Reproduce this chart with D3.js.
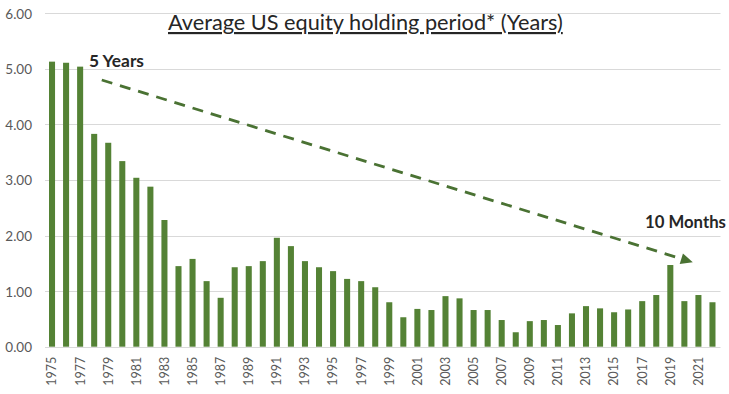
<!DOCTYPE html>
<html>
<head>
<meta charset="utf-8">
<script src="https://cdn.jsdelivr.net/npm/d3@7"></script>
<style>
  html, body { margin: 0; padding: 0; background: #fff; }
  svg { display: block; }
  text { font-family: Lato, "Open Sans", sans-serif; }
</style>
</head>
<body>
<svg id="chart" width="729" height="394"></svg>
<script>
const years = d3.range(1975, 2023);
const values = [
  5.13, 5.11, 5.04, 3.83, 3.67, 3.34, 3.04, 2.88, 2.28, 1.45,
  1.58, 1.18, 0.88, 1.43, 1.45, 1.54, 1.96, 1.81, 1.54, 1.43,
  1.36, 1.22, 1.18, 1.07, 0.80, 0.53, 0.68, 0.66, 0.91, 0.87,
  0.66, 0.66, 0.48, 0.26, 0.46, 0.48, 0.39, 0.60, 0.73, 0.69,
  0.62, 0.67, 0.82, 0.93, 1.47, 0.82, 0.93, 0.80
];
const yTicks = [0, 1, 2, 3, 4, 5, 6];
const xTickYears = years.filter((y, i) => i % 2 === 0);
const title = "Average US equity holding period* (Years)";
const trendStart = { year: 1978.54, value: 4.80 };
const trendEnd = { year: 2020.6, value: 1.52 };
const noteStart = "5 Years";
const noteEnd = "10 Months";

const svg = d3.select("#chart");
const plotLeft = 45, plotRight = 719.5, plotTop = 13.3, plotBottom = 346.7;

const x = d3.scaleBand().domain(years).range([plotLeft, plotRight]).paddingInner(0.57).paddingOuter(0.285);
const y = d3.scaleLinear().domain([0, 6]).range([plotBottom, plotTop]);
const xc = d3.scaleLinear().domain([1975, 2022]).range([x(1975) + x.bandwidth() / 2, x(2022) + x.bandwidth() / 2]);

function fit(sel, target) {
  const n = sel.node();
  const fs = parseFloat(sel.attr("font-size"));
  const w = n.getComputedTextLength();
  if (w > 0) sel.attr("font-size", fs * target / w);
}

// gridlines
svg.append("g").selectAll("line").data(yTicks).join("line")
  .attr("x1", plotLeft).attr("x2", plotRight + 1)
  .attr("y1", d => Math.round(y(d)) + 0.5).attr("y2", d => Math.round(y(d)) + 0.5)
  .attr("stroke", "#d9d9d9").attr("stroke-width", 1);

// y axis labels
const yAxis = svg.append("g").attr("transform", `translate(${plotLeft - 13},0)`)
  .call(d3.axisLeft(y).tickValues(yTicks).tickFormat(d3.format(".2f")).tickSize(0).tickPadding(0));
yAxis.select(".domain").remove();
yAxis.selectAll("text").attr("font-size", 13.5).attr("fill", "#595959")
  .attr("font-family", "Lato, 'Open Sans', sans-serif").attr("dy", "0.36em");

// bars
svg.append("g").selectAll("rect").data(years).join("rect")
  .attr("x", d => x(d)).attr("width", x.bandwidth())
  .attr("y", (d, i) => y(values[i])).attr("height", (d, i) => y(0) - y(values[i]))
  .attr("fill", "#548235");

// x axis labels
const xAxis = svg.append("g").attr("transform", `translate(0,${plotBottom + 10})`)
  .call(d3.axisBottom(x).tickValues(xTickYears).tickSize(0).tickPadding(0));
xAxis.select(".domain").remove();
xAxis.selectAll("text")
  .attr("font-size", 12.5).attr("fill", "#595959")
  .attr("font-family", "Lato, 'Open Sans', sans-serif")
  .attr("text-anchor", "end").attr("dy", "0.35em")
  .attr("transform", "rotate(-90)").attr("x", 0).attr("y", 0);

// trend arrow
const defs = svg.append("defs");
defs.append("marker").attr("id", "arrow").attr("viewBox", "0 0 10 10")
  .attr("refX", 9).attr("refY", 5).attr("markerWidth", 4.2).attr("markerHeight", 4.2)
  .attr("markerUnits", "strokeWidth").attr("orient", "auto")
  .append("path").attr("d", "M0,0 L10,5 L0,10 Z").attr("fill", "#4a7233");

const x1 = xc(trendStart.year), y1 = y(trendStart.value);
const x2 = xc(trendEnd.year), y2 = y(trendEnd.value);
const ang = Math.atan2(y2 - y1, x2 - x1);
const shorten = 10;
svg.append("line")
  .attr("x1", x1).attr("y1", y1)
  .attr("x2", x2 - Math.cos(ang) * shorten).attr("y2", y2 - Math.sin(ang) * shorten)
  .attr("stroke", "#4a7233").attr("stroke-width", 2.8)
  .attr("stroke-dasharray", "11,8");
svg.append("path")
  .attr("d", () => {
    const L = 12, W = 5.5;
    const bx = x2 - Math.cos(ang) * L, by = y2 - Math.sin(ang) * L;
    const px = -Math.sin(ang) * W, py = Math.cos(ang) * W;
    return `M${x2},${y2} L${bx + px},${by + py} L${bx - px},${by - py} Z`;
  })
  .attr("fill", "#4a7233");

// annotations
const t1 = svg.append("text").attr("x", 89).attr("y", 67)
  .attr("font-size", 15).attr("font-weight", "bold").attr("fill", "#262626").text(noteStart);
fit(t1, 55);
const t2 = svg.append("text").attr("x", 645).attr("y", 228)
  .attr("font-size", 15).attr("font-weight", "bold").attr("fill", "#262626").text(noteEnd);
fit(t2, 81);

// title
const tt = svg.append("text").attr("x", 168).attr("y", 30)
  .attr("font-size", 20).attr("fill", "#262626")
  .style("text-decoration", "underline").text(title);
fit(tt, 395);
</script>
</body>
</html>
